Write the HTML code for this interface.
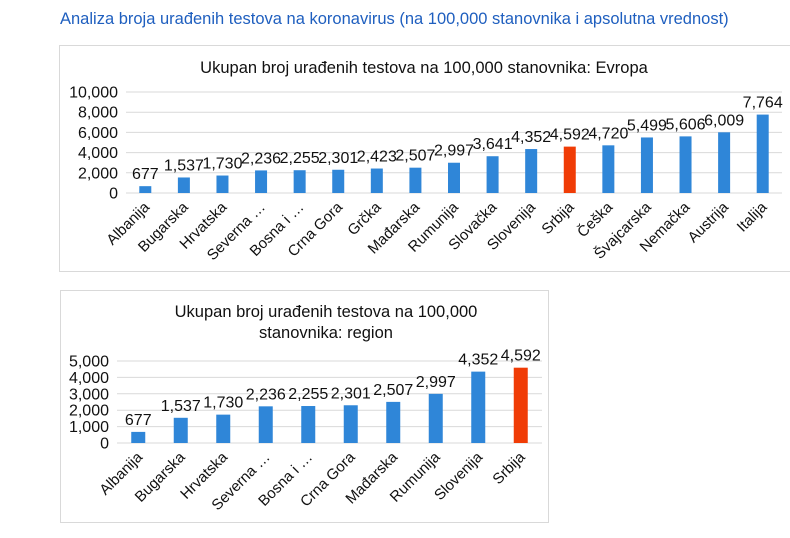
<!DOCTYPE html>
<html><head><meta charset="utf-8"><style>
body{margin:0;background:#fff;width:790px;height:533px;overflow:hidden;font-family:"Liberation Sans",sans-serif;}
svg text{font-family:"Liberation Sans","DejaVu Sans",sans-serif;}
</style></head><body>
<svg width="790" height="533">
<text x="60" y="24" font-size="16.5" fill="#1f5fbf">Analiza broja urađenih testova na koronavirus (na 100,000 stanovnika i apsolutna vrednost)</text>
<rect x="59.5" y="45.5" width="740" height="226" fill="#fff" stroke="#d9d9d9"/>
<rect x="60.5" y="290.5" width="488" height="232" fill="#fff" stroke="#d9d9d9"/>
<text x="424" y="73" font-size="16.5" text-anchor="middle" fill="#111">Ukupan broj urađenih testova na 100,000 stanovnika: Evropa</text>
<text x="326" y="317" font-size="16.5" text-anchor="middle" fill="#111">Ukupan broj urađenih testova na 100,000</text>
<text x="326" y="338" font-size="16.5" text-anchor="middle" fill="#111">stanovnika: region</text>
<g id="c1"></g><g id="c2"></g>
</svg>
<script>
const euCategories=["Albanija","Bugarska","Hrvatska","Severna …","Bosna i …","Crna Gora","Grčka","Mađarska","Rumunija","Slovačka","Slovenija","Srbija","Češka","Švajcarska","Nemačka","Austrija","Italija"];
const euValues=[677,1537,1730,2236,2255,2301,2423,2507,2997,3641,4352,4592,4720,5499,5606,6009,7764];
const euTicks=[0,2000,4000,6000,8000,10000];
const rgCategories=["Albanija","Bugarska","Hrvatska","Severna …","Bosna i …","Crna Gora","Mađarska","Rumunija","Slovenija","Srbija"];
const rgValues=[677,1537,1730,2236,2255,2301,2507,2997,4352,4592];
const rgTicks=[0,1000,2000,3000,4000,5000];
const NS="http://www.w3.org/2000/svg";
function mk(p,tag,a){const e=document.createElementNS(NS,tag);for(const k in a)e.setAttribute(k,a[k]);p.appendChild(e);return e;}
function fmt(v){return v.toLocaleString("en-US");}
function draw(gid,cats,vals,ticks,o){
  const g=document.getElementById(gid);
  const max=ticks[ticks.length-1];
  const y=v=>o.y0-(v/max)*(o.y0-o.yTop);
  const step=(o.x1-o.x0)/cats.length;
  const x=i=>o.x0+step*(i+0.5);
  ticks.forEach(t=>{
    const l=mk(g,"line",{x1:o.x0,x2:o.x1,y1:y(t),y2:y(t),stroke:"#d9d9d9","stroke-width":1});
    
    
    const tx=mk(g,"text",{x:o.x0-8,y:y(t)+5.5,"font-size":16,"text-anchor":"end",fill:"#111"});
    tx.textContent=fmt(t);
    
    
  });
  cats.forEach((c,i)=>{
    const v=vals[i];
    const r=mk(g,"rect",{x:x(i)-o.bw/2,y:y(v),width:o.bw,height:o.y0-y(v),fill:c==="Srbija"?"#f03c06":"#2f86d8"});
    
    
    const lb=mk(g,"text",{x:x(i),y:y(v)-7,"font-size":16,"text-anchor":"middle",fill:"#111"});
    lb.textContent=fmt(v);
    
    
    const ax=x(i)+5,ay=o.y0+15;
    const cl=mk(g,"text",{x:ax,y:ay,"font-size":15,"text-anchor":"end",fill:"#111",transform:`rotate(-45 ${ax} ${ay})`});
    cl.textContent=c;
    
    
  });
}
draw("c1",euCategories,euValues,euTicks,{x0:126,x1:782,y0:193,yTop:92,bw:12});
draw("c2",rgCategories,rgValues,rgTicks,{x0:117,x1:542,y0:443,yTop:361,bw:14});
</script>
</body></html>
